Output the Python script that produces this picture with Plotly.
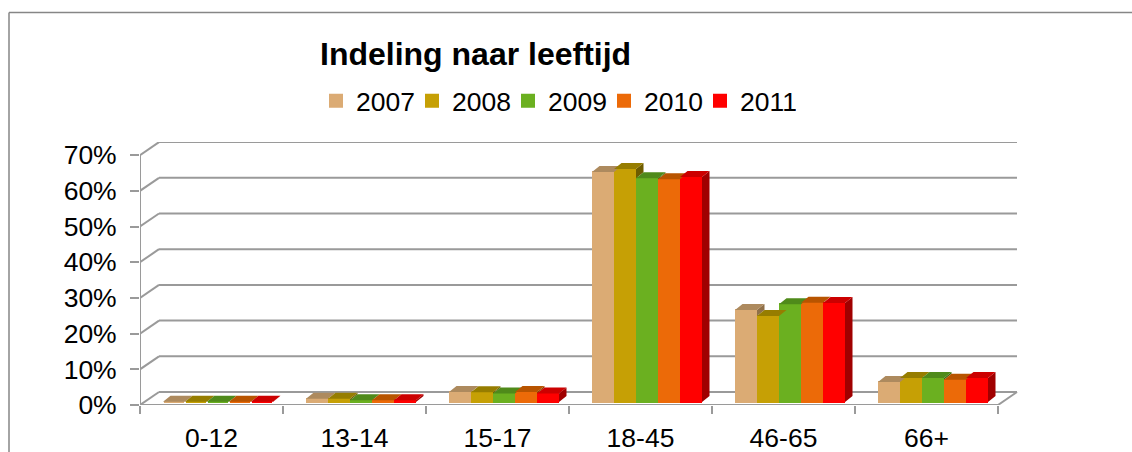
import plotly.graph_objects as go

categories = ["0-12", "13-14", "15-17", "18-45", "46-65", "66+"]
years = ["2007", "2008", "2009", "2010", "2011"]
v2007 = [0.1, 0.9, 2.8, 64.4, 25.8, 5.6]
v2008 = [0.1, 0.9, 2.7, 65.3, 24.1, 6.7]
v2009 = [0.1, 0.5, 2.4, 62.7, 27.4, 6.7]
v2010 = [0.1, 0.5, 2.8, 62.4, 27.8, 6.2]
v2011 = [0.1, 0.5, 2.4, 63.0, 27.7, 6.7]
series = [v2007, v2008, v2009, v2010, v2011]
front = ["#DBAB74", "#C6A005", "#6BB020", "#EC6A08", "#FF0000"]
top = ["#AD8A5E", "#967D00", "#4F8A1A", "#B85400", "#CC0000"]
side = ["#8F7049", "#6E5C00", "#3D6B12", "#8F4200", "#A00000"]
y_ticks = [0, 10, 20, 30, 40, 50, 60, 70]

W, H = 1132, 452
L, R, T, B = 140, 1018, 142, 405
PX_CAT = 143.0
PX_PCT = 3.57
wall_dx, wall_dy = 19 / PX_CAT, 13 / PX_PCT
bar_w = 22 / PX_CAT
bar_shift = 6.5 / PX_CAT
bar_base = 3 / PX_PCT
dep_dx, dep_dy = 7.5 / PX_CAT, 6 / PX_PCT
GRID = "#9A9A9A"

fig = go.Figure()
for s, vals in enumerate(series):
    fig.add_trace(go.Bar(
        x=[c + bar_shift + (s - 2) * bar_w for c in range(len(categories))],
        y=vals, base=bar_base, width=bar_w - 2 / PX_CAT, name=years[s],
        marker=dict(color=front[s], line=dict(width=2, color=front[s])), hoverinfo="skip"))

for s, vals in enumerate(series):
    xs_t, ys_t, xs_s, ys_s = [], [], [], []
    for c, v in enumerate(vals):
        l = c + bar_shift + (s - 2.5) * bar_w
        r = l + bar_w
        t = v + bar_base
        xs_t += [l, r, r + dep_dx, l + dep_dx, l, None]
        ys_t += [t, t, t + dep_dy, t + dep_dy, t, None]
        low = bar_base if s == len(series) - 1 else min(t, series[s + 1][c] + bar_base)
        xs_s += [r, r + dep_dx, r + dep_dx, r, r, None]
        ys_s += [t, t + dep_dy, low + dep_dy, low, t, None]
    fig.add_trace(go.Scatter(x=xs_s, y=ys_s, mode="lines", fill="toself", fillcolor=side[s],
                             line=dict(width=0), showlegend=False, hoverinfo="skip"))
    fig.add_trace(go.Scatter(x=xs_t, y=ys_t, mode="lines", fill="toself", fillcolor=top[s],
                             line=dict(width=0), showlegend=False, hoverinfo="skip"))

x0, x1 = -0.5, len(categories) - 0.5
shapes = []
def seg(xa, ya, xb, yb):
    shapes.append(dict(type="line", xref="x", yref="y", x0=xa, y0=ya, x1=xb, y1=yb,
                       line=dict(color=GRID, width=2), layer="below"))
for v in y_ticks:
    seg(x0, v, x0 + wall_dx, v + wall_dy)
    seg(x0 + wall_dx, v + wall_dy, x1 + wall_dx, v + wall_dy)
seg(x0, 0, x0, y_ticks[-1])
seg(x0, 0, x1, 0)
seg(x1, 0, x1 + wall_dx, wall_dy)
# outer frame of the picture
shapes.append(dict(type="line", xref="paper", yref="paper", x0=(9 - L) / (R - L), x1=(W - L) / (R - L),
                   y0=(B - 12.5) / (B - T), y1=(B - 12.5) / (B - T), line=dict(color="#868686", width=1.5)))
shapes.append(dict(type="line", xref="paper", yref="paper", x0=(9 - L) / (R - L), x1=(9 - L) / (R - L),
                   y0=(B - 12.5) / (B - T), y1=(B - H) / (B - T), line=dict(color="#868686", width=1.5)))

font = "Liberation Sans, Arial, sans-serif"
fig.update_layout(
    width=W, height=H, autosize=False,
    margin=dict(l=L, r=W - R, t=T, b=H - B, pad=0, autoexpand=False),
    paper_bgcolor="white", plot_bgcolor="white",
    barmode="overlay", bargap=0,
    font=dict(family=font, size=26, color="black"),
    title=dict(text="<b>Indeling naar leeftijd</b>", x=320 / W, xanchor="left", xref="container",
               y=1 - 54 / H, yanchor="middle", yref="container", font=dict(size=32, family=font, color="black")),
    legend=dict(orientation="h", xref="container", yref="container", x=316 / W, xanchor="left",
                y=1 - 101 / H, yanchor="middle",
                font=dict(size=26.5), itemclick=False, itemdoubleclick=False, traceorder="normal",
                entrywidth=51, entrywidthmode="pixels", bgcolor="rgba(0,0,0,0)"),
    xaxis=dict(type="linear", range=[x0, x0 + (R - L) / PX_CAT], tickmode="array",
               tickvals=list(range(len(categories))), ticktext=categories,
               ticks="outside", ticklen=9, tickcolor="rgba(0,0,0,0)", showgrid=False, zeroline=False,
               showline=False, tickfont=dict(size=26.5),
               minor=dict(ticks="outside", tickmode="array",
                          tickvals=[x0 + i for i in range(len(categories) + 1)],
                          ticklen=8, tickwidth=2, tickcolor=GRID, showgrid=False)),
    yaxis=dict(range=[0, (B - T) / PX_PCT], tickmode="array", tickvals=y_ticks,
               ticktext=[f"{v}%" for v in y_ticks], ticks="outside", ticklen=9, tickwidth=2, tickcolor=GRID,
               showgrid=False, zeroline=False, showline=False, ticklabelstandoff=8, tickfont=dict(size=26.5)),
    shapes=shapes, showlegend=True,
)
fig.write_html("out.html", post_script="document.body.style.margin='0';document.body.style.overflow='hidden';",
               config=dict(displayModeBar=False))
